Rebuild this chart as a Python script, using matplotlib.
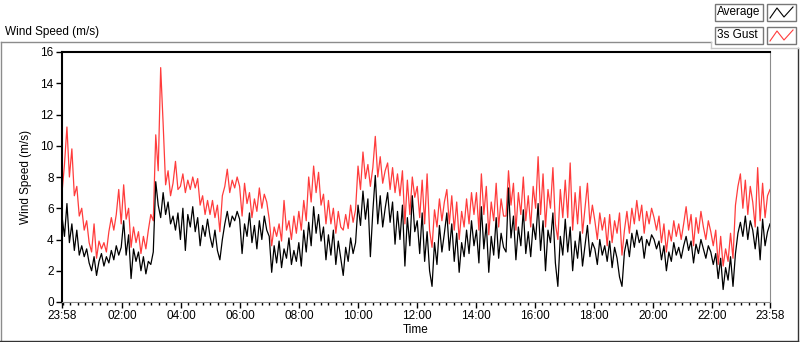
#!/usr/bin/python3
# Wind speed chart: 5 minute average and 3s gust over one day
import numpy as np
import pandas as pd
import matplotlib
matplotlib.use("Agg")
import matplotlib.pyplot as plt
import matplotlib.dates as mdates
from matplotlib.patches import Rectangle
from matplotlib.lines import Line2D

# Average wind speed (m/s), 5 minute steps, one row per hour
average = [
    5.5, 4.2, 6.3, 3.8, 5.0, 3.3, 4.6, 3.0, 3.6, 2.9, 3.4, 2.5,
    2.0, 2.9, 1.7, 2.6, 3.1, 2.3, 2.9, 2.5, 3.3, 2.7, 3.6, 3.0,
    3.5, 5.2, 3.0, 4.3, 1.5, 3.4, 2.6, 3.2, 2.0, 2.9, 1.8, 2.6,
    2.4, 3.2, 7.7, 6.2, 5.4, 7.0, 5.6, 6.4, 5.0, 5.5, 4.6, 5.7,
    4.0, 6.0, 3.3, 5.6, 4.8, 6.1, 4.5, 5.4, 3.6, 4.9, 4.2, 5.3,
    4.2, 3.5, 4.6, 3.3, 2.7, 4.0, 5.0, 5.8, 4.8, 5.5, 5.2, 5.8,
    5.3, 3.1, 5.0, 4.2, 5.7, 3.8, 4.9, 3.4, 5.2, 4.0, 5.5, 4.6,
    4.2, 1.9, 3.6, 2.5, 3.9, 2.2, 3.4, 2.8, 4.1, 2.4, 3.3, 2.6,
    3.8, 2.3, 4.6, 3.2, 5.1, 3.6, 6.1, 4.4, 5.6, 3.9, 4.8, 2.7,
    4.3, 3.0, 4.6, 2.4, 3.9, 2.8, 1.7, 3.5, 2.6, 4.1, 3.1, 3.8,
    6.2, 4.9, 7.1, 5.3, 6.6, 2.9, 5.8, 8.1, 5.0, 6.8, 4.8, 6.0,
    7.0, 5.1, 6.4, 3.7, 5.8, 4.0, 6.2, 2.3, 5.4, 3.6, 6.8, 4.5,
    5.2, 3.1, 5.7, 2.6, 4.5, 2.0, 1.0, 3.8, 2.4, 4.9, 3.2, 4.4,
    5.7, 3.3, 5.0, 2.6, 4.4, 1.9, 3.8, 2.9, 4.6, 3.1, 5.2, 3.6,
    4.6, 2.5, 6.1, 3.4, 5.0, 1.9, 4.2, 3.0, 5.4, 2.8, 4.4, 3.5,
    3.2, 7.3, 4.1, 5.5, 2.7, 4.8, 3.6, 5.9, 3.1, 4.5, 2.9, 5.0,
    4.0, 6.3, 3.3, 5.2, 2.0, 4.6, 3.8, 5.7, 2.5, 1.0, 4.2, 3.0,
    5.3, 3.2, 4.8, 2.0, 3.9, 2.8, 4.5, 2.3, 3.6, 4.9, 2.9, 3.8,
    3.4, 2.4, 4.0, 3.0, 3.6, 2.6, 3.9, 2.2, 3.5, 2.8, 1.6, 1.0,
    3.2, 4.0, 2.9, 4.4, 3.5, 4.6, 3.8, 4.2, 2.8, 4.0, 3.6, 4.3,
    4.0, 3.4, 3.9, 2.7, 3.6, 2.0, 3.2, 2.6, 3.8, 3.0, 3.5, 2.8,
    3.6, 4.2, 3.3, 3.9, 2.5, 3.7, 3.1, 4.0, 3.4, 2.8, 3.6, 3.2,
    2.4, 3.1, 1.5, 2.8, 0.8, 2.2, 1.4, 2.9, 1.0, 3.1, 4.4, 5.1,
    4.2, 5.5, 4.0, 5.2, 4.6, 3.4, 4.8, 2.7, 5.3, 3.6, 4.5, 5.0,
]

# 3s gust (m/s), same steps
gust = [
    7.0, 8.8, 11.2, 8.0, 9.8, 6.8, 7.4, 5.5, 6.0, 4.6, 5.2, 3.8,
    3.2, 5.0, 2.8, 3.9, 3.4, 3.8, 3.2, 4.5, 5.4, 4.6, 5.6, 7.2,
    5.0, 7.5, 5.3, 6.0, 3.5, 4.8, 3.8, 4.5, 3.1, 4.2, 3.4, 4.6,
    5.6, 5.2, 10.7, 8.4, 15.0, 11.4, 7.5, 8.4, 6.8, 7.6, 9.0, 7.2,
    7.4, 8.2, 7.0, 7.8, 7.2, 8.0, 7.3, 7.9, 6.2, 6.8, 5.6, 6.5,
    5.6, 6.5, 5.4, 6.2, 4.5, 6.8, 7.4, 8.5, 7.0, 7.8, 7.3, 8.0,
    7.4, 5.5, 7.6, 6.3, 7.0, 5.4, 6.6, 5.8, 7.3, 6.0, 6.9, 6.4,
    5.3, 3.6, 4.8, 4.2, 5.0, 3.9, 6.5, 4.6, 5.2, 4.0, 5.5, 4.4,
    5.8, 4.6, 6.5, 5.2, 8.0, 6.4, 8.7, 7.0, 8.3, 6.2, 6.9, 5.0,
    6.5, 5.0, 6.0, 4.4, 5.8, 4.8, 4.6, 5.6, 4.7, 6.2, 5.1, 5.9,
    8.7, 7.2, 9.6, 7.9, 8.8, 7.4, 8.6, 10.6, 8.0, 9.3, 7.6, 8.4,
    8.9, 7.2, 8.6, 7.0, 8.2, 6.8, 8.4, 5.0, 7.8, 5.6, 8.0, 6.7,
    7.4, 5.4, 7.8, 5.0, 8.2, 4.6, 3.5, 5.9, 4.8, 6.6, 5.2, 6.4,
    7.2, 5.0, 6.8, 4.6, 6.4, 4.0, 5.8, 4.8, 6.6, 5.0, 7.0, 5.6,
    7.0, 4.6, 8.2, 5.6, 7.4, 4.3, 6.4, 5.2, 7.6, 4.8, 6.6, 5.5,
    5.5, 8.4, 6.2, 7.6, 4.6, 7.0, 5.6, 8.0, 5.2, 6.8, 4.8, 7.4,
    6.0, 9.3, 5.6, 8.2, 4.8, 7.2, 6.0, 8.6, 5.0, 4.0, 7.2, 5.4,
    7.8, 5.4, 8.9, 4.6, 7.0, 5.0, 7.4, 4.4, 6.0, 7.6, 5.0, 6.2,
    5.2, 4.0, 5.7, 4.6, 5.4, 3.6, 5.6, 3.8, 5.2, 4.4, 5.7, 3.0,
    4.6, 5.8, 4.4, 6.0, 5.0, 6.5, 5.2, 6.2, 4.4, 5.8, 5.0, 6.0,
    5.4, 4.6, 5.5, 3.8, 5.0, 3.2, 4.6, 3.9, 5.2, 4.2, 5.0, 4.0,
    5.0, 6.1, 4.6, 5.6, 3.6, 5.4, 4.4, 5.8, 4.8, 4.0, 5.2, 4.5,
    3.6, 4.6, 2.4, 4.2, 2.3, 3.4, 2.6, 4.4, 2.8, 6.2, 7.4, 8.2,
    6.0, 7.8, 5.6, 7.4, 6.4, 4.8, 8.6, 5.2, 7.6, 5.4, 6.8, 7.2,
]

start = pd.Timestamp("2020-01-01 23:58")
end = start + pd.Timedelta(hours=24)
times = pd.date_range(start, end, periods=len(average))

# x tick positions: first/last sample and every 2 hours in between
tick_times = [start] + list(pd.date_range("2020-01-02 02:00", "2020-01-02 22:00", freq="2h")) + [end]
y_ticks = [0, 2, 4, 6, 8, 10, 12, 14, 16]

plt.rcParams['font.family'] = ['Liberation Sans', 'DejaVu Sans']
plt.rcParams['font.size'] = 8

W, H = 800, 342
fig = plt.figure(figsize=(W / 100, H / 100), dpi=100)

def fx(px):
    return px / W

def fy(py):
    return 1 - py / H

# outer panel frame
fig.add_artist(Line2D([fx(0.5), fx(711)], [fy(42), fy(42)], color='#8c8c8c', lw=1))
fig.add_artist(Line2D([fx(0.5), fx(0.5)], [fy(42), fy(341)], color='#8c8c8c', lw=1))
fig.add_artist(Line2D([fx(0), fx(798)], [fy(340.5), fy(340.5)], color='#333333', lw=1))
fig.add_artist(Line2D([fx(797.5), fx(797.5)], [fy(48), fy(341)], color='#333333', lw=1))
fig.add_artist(Line2D([fx(711), fx(711)], [fy(42), fy(48)], color='#c8c8c8', lw=1))
fig.add_artist(Line2D([fx(711), fx(798)], [fy(48), fy(48)], color='#c8c8c8', lw=1))

fig.text(fx(5), fy(32), 'Wind Speed (m/s)', ha='left', va='center', fontsize=8.5)

# legend boxes, drawn by hand like the original panel
for row, (label, col) in enumerate([('Average', 'black'), ('3s Gust', '#ff3c3c')]):
    top = 4 + row * 23
    fig.add_artist(Rectangle((fx(715), fy(top + 17)), fx(48), 17 / H, facecolor='white',
                             edgecolor='#777777', lw=1))
    fig.text(fx(717), fy(top + 8.5), label, ha='left', va='center', fontsize=8.5)
    fig.add_artist(Rectangle((fx(767), fy(top + 17)), fx(29), 17 / H, facecolor='white',
                             edgecolor='#777777', lw=1))
    fig.add_artist(Line2D([fx(770), fx(777), fx(784), fx(793)],
                          [fy(top + 14), fy(top + 4), fy(top + 13), fy(top + 3)],
                          color=col, lw=0.8))

ax = fig.add_axes([fx(62), fy(302), fx(770 - 62), (302 - 52) / H])
ax.plot(times, gust, color='#ff3c3c', lw=0.9)
ax.plot(times, average, color='black', lw=0.9)

ax.set_xlim(start, end)
ax.set_ylim(0, 16)
ax.set_yticks(y_ticks)
ax.set_xticks(tick_times)
ax.xaxis.set_major_formatter(mdates.DateFormatter('%H:%M'))
ax.xaxis.set_minor_locator(mdates.MinuteLocator(byminute=[0, 15, 30, 45]))
ax.tick_params(axis='both', direction='out', length=4, width=1, pad=2, labelsize=8.5)
ax.tick_params(axis='x', which='minor', direction='out', length=2, width=1)
ax.set_xlabel('Time', fontsize=8.5, labelpad=1)
ax.set_ylabel('Wind Speed (m/s)', fontsize=8.5, labelpad=6)

ax.spines['left'].set_linewidth(1.5)
ax.spines['top'].set_linewidth(1.5)
ax.spines['right'].set_color('#8c8c8c')
ax.spines['bottom'].set_color('#8c8c8c')

fig.savefig('out.png', dpi=100)
